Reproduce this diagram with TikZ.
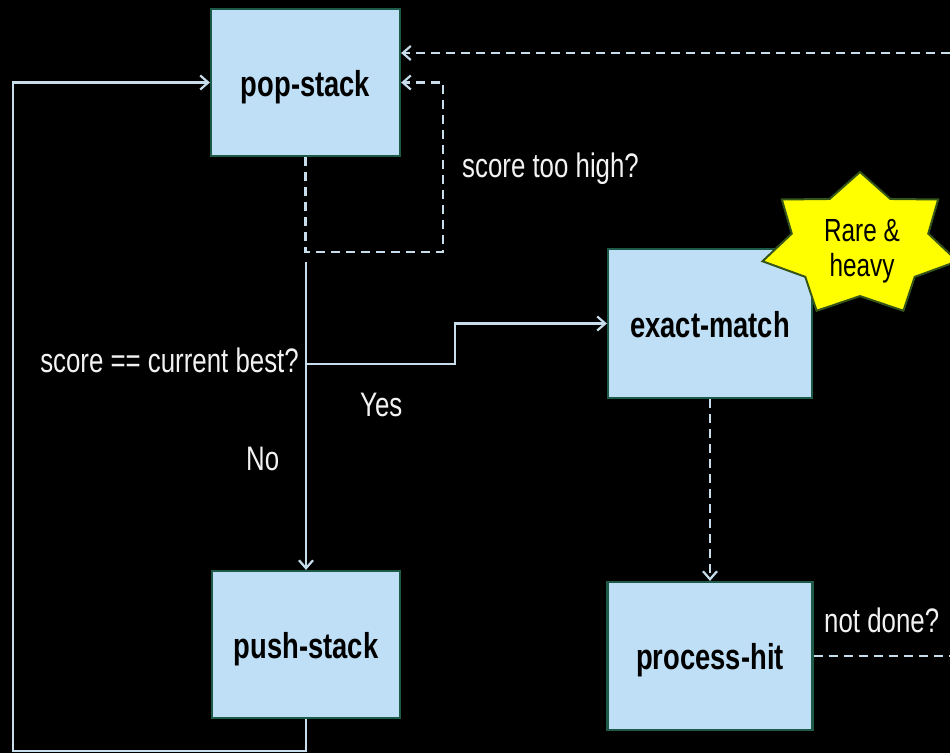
\documentclass[tikz,border=0pt]{standalone}
\usepackage{fontspec}
\setmainfont[FakeStretch=0.76]{Liberation Sans}
\usetikzlibrary{arrows.meta,calc}

\definecolor{boxfill}{HTML}{BEDFF5}
\definecolor{boxedge}{HTML}{1D5A48}
\definecolor{wire}{HTML}{C8DDEC}
\definecolor{starfill}{HTML}{FFFF00}
\definecolor{staredge}{HTML}{35551A}
\definecolor{labeltext}{HTML}{F2F2F2}

\begin{document}
\begin{tikzpicture}[x=1pt,y=-1pt,
  stepbox/.style={draw=boxedge, line width=2.2pt, fill=boxfill, inner sep=0pt,
    text height=27pt, text depth=0pt, text=black,
    font=\fontsize{36}{40}\selectfont\bfseries},
  note/.style={text=labeltext, inner sep=0pt, font=\fontsize{34}{38}\selectfont},
  tip/.style={-{Straight Barb[length=8pt,width=14pt,line width=2.2pt]}},
  wireline/.style={draw=wire, line width=2.5pt},
  flow/.style={wireline, tip},
  dline/.style={wireline, dash pattern=on 9pt off 6pt},
  dflow/.style={dline, tip},
]
% canvas
\fill[black] (0,0) rectangle (950,753);
\useasboundingbox (0,0) rectangle (950,753);

% process steps
\node[stepbox, minimum width=189pt, minimum height=147pt] (pop) at (305.5,82.5) {pop-stack};
\node[stepbox, minimum width=204pt, minimum height=149pt] (exact) at (710,323.5) {exact-match};
\node[stepbox, minimum width=188pt, minimum height=147pt] (push) at (306,644.5) {push-stack};
\node[stepbox, minimum width=205pt, minimum height=148pt] (proc) at (710,656) {process-hit};

% seven-pointed callout star
\draw[draw=staredge, line width=2pt, fill=starfill]
  (860,172)
  \foreach \i [evaluate=\i as \r using {ifthenelse(isodd(\i),0.7,1)}] in {1,...,13}
    { -- ({860+100*\r*cos(90+\i*360/14)},{245-73*\r*sin(90+\i*360/14)}) }
  -- cycle;
\node[align=center, inner sep=0pt, text=black, font=\fontsize{32}{35}\selectfont] (rare) at (862,251) {Rare \&\\heavy};

% helper points
\coordinate (lb) at (13,751);
\coordinate (sl) at (443,252);
\coordinate (split) at (306,262);
\coordinate (fork) at (306,364);
\coordinate (jog) at (455,364);
\coordinate (rimlow) at (950,656);
\coordinate (rimtop) at (950,53);

% connectors
\draw[flow] (push.south) -- (push.south |- lb) -- (lb) |- (pop.west);
\draw[dflow] (pop.south) |- (sl) |- (pop.east);
\draw[flow] (split) -- (push.north);
\draw[flow] (fork) -- (jog) |- (exact.west);
\draw[dflow] (exact.south) -- (proc.north);
\draw[dline] (proc.east) -- (rimlow);
\draw[dflow] (rimtop) -- (rimtop -| pop.east);

% labels
\node[note, anchor=base east] (qbest) at (299,372) {score == current best?};
\node[note, anchor=base west] (qhigh) at (462,177) {score too high?};
\node[note, anchor=base west] (yes) at (360,416) {Yes};
\node[note, anchor=base west] (no) at (246,470) {No};
\node[note, anchor=base west] (notdone) at (824,632) {not done?};
\end{tikzpicture}
\end{document}
